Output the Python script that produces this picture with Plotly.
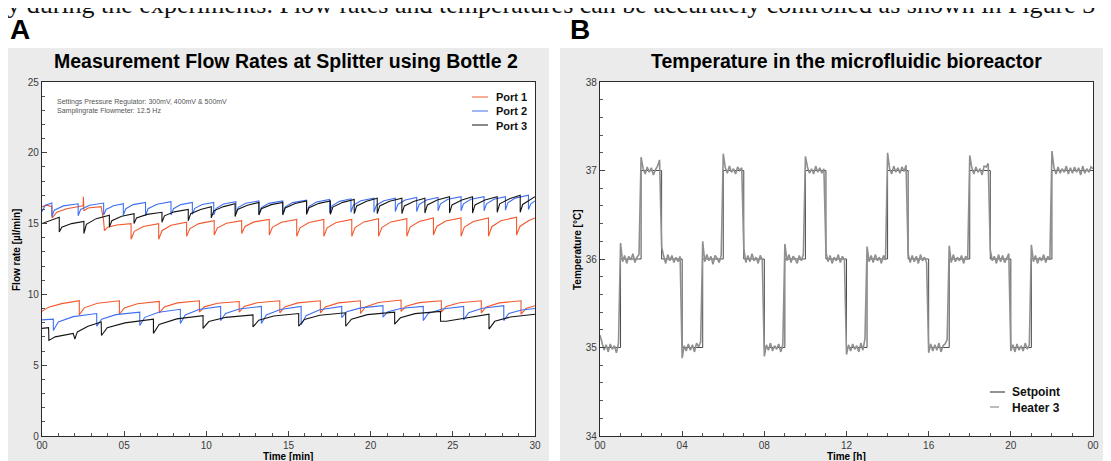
import plotly.graph_objects as go

# the page puts the figure 8px in from the top-left corner, so the figure is 8px smaller
# and every position below is given in reference-picture pixels, then shifted by OFF
OFF = 8
W, H = 1111 - OFF, 461 - OFF

# ---------------- panel A: flow rate [µl/min] vs time [min], (t, value)
port1_upper = [(0, 16.2), (0.3, 16.3), (0.6, 16.2), (0.62, 15.4), (0.9, 15.8), (1.5, 16.05), (2.5, 16.25),
               (2.52, 16.9), (2.55, 15.9), (2.8, 16.1), (3.6, 16.2), (3.7, 15.6), (3.75, 15.2), (3.8, 14.5),
               (4.0, 14.75), (4.55, 14.9), (5.42, 15.0), (5.42, 13.9), (5.62, 14.45), (6.17, 14.8), (7.1, 15.0),
               (7.1, 13.9), (7.3, 14.5), (7.85, 14.88), (8.8, 15.1), (8.8, 14.1), (9.0, 14.65), (9.55, 15.0),
               (10.48, 15.2), (10.48, 14.2), (10.68, 14.7), (11.23, 15.02), (12.15, 15.2), (12.15, 14.3),
               (12.35, 14.8), (12.9, 15.12), (13.83, 15.3), (13.83, 14.2), (14.03, 14.75), (14.58, 15.1),
               (15.5, 15.3), (15.5, 14.1), (15.7, 14.7), (16.25, 15.08), (17.15, 15.3), (17.15, 14.1),
               (17.35, 14.7), (17.9, 15.08), (18.85, 15.3), (18.85, 14.1), (19.05, 14.72), (19.6, 15.12),
               (20.48, 15.35), (20.48, 14.1), (20.68, 14.72), (21.23, 15.12), (22.2, 15.35), (22.2, 14.1),
               (22.4, 14.75), (22.95, 15.15), (23.82, 15.4), (23.82, 14.2), (24.02, 14.8), (24.57, 15.18),
               (25.5, 15.4), (25.5, 14.1), (25.7, 14.75), (26.25, 15.15), (27.17, 15.4), (27.17, 14.1),
               (27.37, 14.78), (27.92, 15.2), (28.88, 15.45), (28.88, 14.2), (29.08, 14.8), (29.6, 15.2),
               (30, 15.4)]
port1_lower = [(0, 8.8), (0.4, 9.1), (1.2, 9.35), (2.27, 9.55), (2.27, 8.55), (2.57, 9.05), (3.37, 9.37),
               (4.71, 9.55), (4.71, 8.6), (5.01, 9.05), (5.81, 9.34), (7.14, 9.5), (7.14, 8.7), (7.44, 9.12),
               (8.24, 9.4), (9.58, 9.55), (9.58, 8.75), (9.88, 9.12), (10.68, 9.37), (12.0, 9.5), (12.0, 8.75),
               (12.3, 9.15), (13.1, 9.41), (14.47, 9.55), (14.47, 8.7), (14.77, 9.12), (15.57, 9.4),
               (16.94, 9.55), (16.94, 8.7), (17.24, 9.12), (18.04, 9.4), (19.38, 9.55), (19.38, 8.65),
               (19.68, 9.12), (20.48, 9.43), (21.85, 9.6), (21.85, 8.8), (22.15, 9.17), (22.95, 9.42),
               (24.3, 9.55), (24.3, 8.75), (24.6, 9.15), (25.4, 9.41), (26.73, 9.55), (26.73, 8.7),
               (27.03, 9.12), (27.83, 9.4), (29.15, 9.55), (29.15, 8.6), (29.45, 9.0), (30, 9.2)]
port2_upper = [(0, 15.85), (0.2, 16.3), (0.6, 16.45), (0.6, 15.5), (0.75, 15.95), (1.3, 16.25), (2.2, 16.4),
               (2.2, 15.55), (2.35, 16.0), (2.9, 16.3), (3.75, 16.45), (3.75, 15.6), (3.9, 16.0), (4.35, 16.26),
               (4.95, 16.4), (4.95, 15.6), (5.1, 16.05), (5.55, 16.34), (6.3, 16.5), (6.3, 15.55), (6.45, 16.05),
               (7.0, 16.37), (7.85, 16.55), (7.85, 15.6), (8.0, 16.05), (8.45, 16.34), (9.15, 16.5),
               (9.15, 15.65), (9.3, 16.08), (9.75, 16.35), (10.45, 16.5), (10.45, 15.6), (10.6, 16.08),
               (11.05, 16.38), (11.8, 16.55), (11.8, 15.7), (11.95, 16.15), (12.4, 16.44), (13.2, 16.6),
               (13.2, 15.65), (13.35, 16.12), (13.8, 16.43), (14.65, 16.6), (14.65, 15.7), (14.8, 16.18),
               (15.25, 16.48), (16.1, 16.65), (16.1, 15.75), (16.25, 16.22), (16.7, 16.53), (17.5, 16.7),
               (17.5, 15.75), (17.65, 16.25), (18.1, 16.57), (18.8, 16.75), (18.8, 15.8), (18.95, 16.3),
               (19.4, 16.62), (20.2, 16.8), (20.2, 15.8), (20.35, 16.3), (20.8, 16.62), (21.5, 16.8),
               (21.5, 15.85), (21.65, 16.35), (22.1, 16.67), (22.8, 16.85), (22.8, 15.85), (22.95, 16.35),
               (23.4, 16.67), (24.1, 16.85), (24.1, 15.9), (24.25, 16.4), (24.7, 16.72), (25.5, 16.9),
               (25.5, 15.9), (25.65, 16.4), (26.1, 16.72), (26.9, 16.9), (26.9, 15.9), (27.05, 16.4),
               (27.5, 16.72), (28.2, 16.9), (28.2, 15.95), (28.35, 16.47), (28.8, 16.8), (29.6, 17.0),
               (29.6, 16.0), (29.75, 16.4), (30, 16.6)]
port2_lower = [(0, 8.2), (0.69, 8.25), (0.69, 7.45), (0.99, 8.05), (1.9, 8.43), (3.33, 8.65), (3.33, 7.75),
               (3.63, 8.25), (4.5, 8.57), (5.95, 8.75), (5.95, 7.8), (6.25, 8.38), (7.1, 8.74), (8.42, 8.95),
               (8.42, 7.95), (8.72, 8.55), (9.55, 8.93), (10.87, 9.15), (10.87, 8.15), (11.17, 8.65),
               (12.0, 8.97), (13.35, 9.15), (13.35, 7.95), (13.65, 8.55), (14.5, 8.93), (15.77, 9.15),
               (15.77, 7.85), (16.07, 8.5), (16.9, 8.92), (18.24, 9.15), (18.24, 8.35), (18.54, 8.78),
               (19.4, 9.05), (20.75, 9.2), (20.75, 8.4), (21.05, 8.78), (21.9, 9.02), (23.2, 9.15),
               (23.2, 8.15), (23.5, 8.65), (24.35, 8.97), (25.66, 9.15), (25.66, 8.2), (25.96, 8.7),
               (26.8, 9.02), (28.1, 9.2), (28.1, 8.15), (28.4, 8.65), (29.2, 8.9), (30, 9.0)]
port3_upper = [(0, 15.0), (0.5, 15.2), (1.05, 15.45), (1.05, 14.4), (1.2, 14.75), (1.8, 15.0), (2.55, 15.15),
               (2.55, 14.3), (2.7, 14.95), (3.3, 15.35), (4.1, 15.6), (4.1, 14.75), (4.25, 15.2), (4.85, 15.52),
               (5.6, 15.7), (5.6, 15.0), (5.75, 15.4), (6.4, 15.65), (7.3, 15.8), (7.3, 15.1), (7.45, 15.55),
               (8.05, 15.83), (8.9, 16.0), (8.9, 15.2), (9.05, 15.7), (9.65, 16.0), (10.3, 16.2), (10.3, 15.4),
               (10.45, 15.9), (11.05, 16.2), (11.75, 16.4), (11.75, 15.5), (11.9, 16.0), (12.5, 16.3),
               (13.2, 16.5), (13.2, 15.6), (13.35, 16.05), (13.95, 16.34), (14.65, 16.5), (14.65, 15.6),
               (14.8, 16.1), (15.4, 16.42), (16.1, 16.6), (16.1, 15.65), (16.25, 16.12), (16.85, 16.43),
               (17.55, 16.6), (17.55, 15.65), (17.7, 16.17), (18.3, 16.5), (19.0, 16.7), (19.0, 15.7),
               (19.15, 16.25), (19.75, 16.58), (20.4, 16.8), (20.4, 15.7), (20.55, 16.25), (21.15, 16.58),
               (21.9, 16.8), (21.9, 15.7), (22.05, 16.25), (22.65, 16.58), (23.3, 16.8), (23.3, 15.75),
               (23.45, 16.32), (24.05, 16.67), (24.8, 16.9), (24.8, 15.75), (24.95, 16.32), (25.55, 16.67),
               (26.2, 16.9), (26.2, 15.75), (26.35, 16.32), (26.95, 16.67), (27.7, 16.9), (27.7, 15.8),
               (27.85, 16.4), (28.45, 16.75), (29.1, 17.0), (29.1, 15.8), (29.25, 16.35), (30, 16.9)]
port3_lower = [(0, 7.6), (0.4, 7.65), (0.42, 6.75), (0.8, 7.0), (1.9, 7.25), (2.0, 6.85), (2.15, 7.35),
               (2.8, 7.75), (3.6, 8.05), (3.62, 7.1), (3.97, 7.65), (5.05, 7.99), (6.78, 8.25), (6.78, 7.25),
               (7.13, 7.88), (8.2, 8.27), (9.8, 8.5), (9.8, 7.6), (10.15, 8.08), (11.2, 8.38), (12.84, 8.55),
               (12.84, 7.7), (13.19, 8.18), (14.1, 8.48), (15.62, 8.65), (15.62, 7.75), (15.97, 8.23),
               (16.9, 8.53), (18.48, 8.7), (18.48, 7.75), (18.83, 8.25), (19.8, 8.57), (21.46, 8.75),
               (21.46, 7.9), (21.81, 8.35), (22.7, 8.64), (24.25, 8.8), (24.25, 8.1), (24.6, 8.1), (25.6, 8.3),
               (27.2, 8.6), (27.2, 7.55), (27.55, 8.1), (28.5, 8.4), (30, 8.6)]

port_names = ["Port 1", "Port 2", "Port 3"]
port_colors = ["#f2582c", "#3f6ff0", "#151515"]
flow_ticks = [0, 5, 10, 15, 20, 25]
min_ticks = [0, 5, 10, 15, 20, 25, 30]
min_ticktext = ["00", "05", "10", "15", "20", "25", "30"]

# ---------------- panel B: temperature [°C] vs time [h]
setpoint_hours = list(range(25))
setpoint_temp = [35, 36, 37, 36, 35, 36, 37, 36, 35, 36, 37, 36, 35, 36, 37, 36,
                 35, 36, 37, 36, 35, 36, 37, 37, 37]
heater3_temp = [
    35.14, 35.06, 34.97, 35.03, 34.95, 35.04, 34.98, 35.02, 34.94, 35.05,
    36.18, 35.97, 36.04, 35.95, 36.03, 35.99, 36.06, 35.96, 36.02, 36.05,
    37.15, 37.02, 36.96, 37.04, 36.98, 37.03, 36.95, 37.01, 37.05, 37.12,
    36.14, 36.03, 35.95, 36.05, 35.98, 36.04, 35.96, 36.02, 35.97, 36.03,
    34.88, 35.02, 34.96, 35.04, 34.97, 35.03, 34.95, 35.05, 35.01, 35.06,
    36.20, 35.97, 36.05, 35.98, 36.03, 35.94, 36.04, 36.01, 35.96, 36.04,
    37.19, 37.03, 36.97, 37.05, 36.98, 37.02, 36.96, 37.04, 37.00, 37.03,
    36.12, 35.96, 36.04, 35.97, 36.06, 35.98, 36.02, 35.95, 36.04, 35.99,
    34.90, 35.03, 34.97, 35.05, 34.96, 35.02, 34.98, 35.04, 34.95, 35.03,
    36.17, 35.98, 36.05, 35.96, 36.03, 36.00, 35.95, 36.04, 35.98, 36.05,
    37.16, 37.04, 36.97, 37.02, 36.96, 37.05, 36.98, 37.03, 36.97, 37.02,
    36.08, 35.97, 36.04, 35.95, 36.02, 35.98, 36.05, 35.96, 36.03, 35.99,
    34.92, 35.03, 34.96, 35.04, 34.98, 35.02, 34.95, 35.05, 34.97, 35.10,
    36.14, 35.97, 36.04, 35.96, 36.05, 35.98, 36.02, 35.95, 36.04, 35.99,
    37.20, 37.02, 36.96, 37.05, 36.98, 37.03, 36.97, 37.04, 36.99, 37.06,
    36.06, 35.96, 36.04, 35.97, 36.03, 35.95, 36.05, 35.98, 36.02, 35.96,
    34.94, 35.04, 34.96, 35.03, 34.97, 35.05, 34.95, 35.02, 35.04, 35.09,
    36.15, 35.96, 36.05, 35.97, 36.02, 35.98, 36.04, 35.95, 36.03, 36.00,
    37.17, 37.03, 36.96, 37.04, 36.98, 37.02, 36.95, 37.05, 37.04, 37.08,
    36.10, 35.98, 36.03, 35.95, 36.05, 35.97, 36.04, 35.96, 36.02, 36.06,
    34.96, 35.03, 34.95, 35.04, 34.97, 35.02, 34.96, 35.05, 34.98, 35.03,
    36.16, 35.97, 36.04, 35.95, 36.02, 35.98, 36.05, 35.96, 36.03, 35.99,
    37.22, 37.03, 36.96, 37.04, 36.97, 37.02, 36.98, 37.05, 36.96, 37.03,
    36.97, 37.04, 36.98, 37.03, 36.95, 37.05, 36.97, 37.02, 36.98, 37.04,
    37.02]
heater3_hours = [i / 10 for i in range(len(heater3_temp))]
temp_ticks = [34, 35, 36, 37, 38]
hour_ticks = [0, 4, 8, 12, 16, 20, 24]
hour_ticktext = ["00", "04", "08", "12", "16", "20", "00"]

SANS = "Liberation Sans, Arial, sans-serif"


def px(x):
    return (x - OFF) / W


def py(y):
    return 1 - (y - OFF) / H


fig = go.Figure()

port_series = [(port1_upper, port1_lower), (port2_upper, port2_lower), (port3_upper, port3_lower)]
for name, color, pair in zip(port_names, port_colors, port_series):
    for pts in pair:
        fig.add_trace(go.Scatter(x=[p[0] for p in pts], y=[p[1] for p in pts], mode="lines",
                                 line=dict(color=color, width=1.1), name=name, showlegend=False,
                                 xaxis="x", yaxis="y"))

fig.add_trace(go.Scatter(x=setpoint_hours, y=setpoint_temp, mode="lines", line_shape="hv",
                         line=dict(color="#4a4a4a", width=1), name="Setpoint", showlegend=False,
                         xaxis="x2", yaxis="y2"))
fig.add_trace(go.Scatter(x=heater3_hours, y=heater3_temp, mode="lines",
                         line=dict(color="#8f8f8f", width=1.6), name="Heater 3", showlegend=False,
                         xaxis="x2", yaxis="y2"))

axis_common = dict(showgrid=False, zeroline=False, showline=True, linecolor="#2a2a2a", linewidth=1.3,
                   mirror=True, ticks="inside", ticklen=5, tickcolor="#444", tickwidth=1,
                   tickfont=dict(family=SANS, size=10, color="#3a3a3a"))

A_X = (42, 535)
B_X = (600, 1093)
PLOT_Y = (82, 436)

fig.update_layout(
    width=W, height=H, margin=dict(l=0, r=0, t=0, b=0, autoexpand=False),
    paper_bgcolor="white", plot_bgcolor="white", showlegend=False,
    xaxis=dict(axis_common, domain=[px(A_X[0]), px(A_X[1])], range=[0, 30], anchor="y",
               tickvals=min_ticks, ticktext=min_ticktext,
               minor=dict(dtick=1, tick0=0, ticks="inside", ticklen=3, tickcolor="#555")),
    yaxis=dict(axis_common, domain=[py(PLOT_Y[1]), py(PLOT_Y[0])], range=[0, 25], anchor="x",
               tickvals=flow_ticks, minor=dict(dtick=1, tick0=0, ticks="inside", ticklen=3, tickcolor="#555")),
    xaxis2=dict(axis_common, domain=[px(B_X[0]), px(B_X[1])], range=[0, 24], anchor="y2",
                tickvals=hour_ticks, ticktext=hour_ticktext,
                minor=dict(dtick=1, tick0=0, ticks="inside", ticklen=3, tickcolor="#555")),
    yaxis2=dict(axis_common, domain=[py(PLOT_Y[1]), py(PLOT_Y[0])], range=[34, 38], anchor="x2",
                tickvals=temp_ticks, minor=dict(dtick=0.2, tick0=34, ticks="inside", ticklen=3, tickcolor="#555")),
)

# grey panel frames, with white plot areas laid back over them
shapes = []
for x0, x1 in [(8, 549), (560, 1111)]:
    shapes.append(dict(type="rect", xref="paper", yref="paper", x0=px(x0), x1=px(x1), y0=0, y1=py(48),
                       fillcolor="#ebebeb", line=dict(width=0), layer="below"))
for x0, x1 in [A_X, B_X]:
    shapes.append(dict(type="rect", xref="paper", yref="paper", x0=px(x0), x1=px(x1),
                       y0=py(PLOT_Y[1]), y1=py(PLOT_Y[0]), fillcolor="white", line=dict(width=0), layer="below"))

# hand-placed legends (entries are tighter than plotly's own legend allows)
legend_a_y = [97, 111, 125]
for color, yy in zip(port_colors, legend_a_y):
    shapes.append(dict(type="line", xref="paper", yref="paper", x0=px(472), x1=px(488), y0=py(yy), y1=py(yy),
                       line=dict(color=color, width=1)))
legend_b_names = ["Setpoint", "Heater 3"]
legend_b = [("#4a4a4a", "solid", 392), ("#8f8f8f", "dash", 407)]
for color, dash, yy in legend_b:
    shapes.append(dict(type="line", xref="paper", yref="paper", x0=px(990), x1=px(1005), y0=py(yy), y1=py(yy),
                       line=dict(color=color, width=1.2, dash=dash)))
fig.update_layout(shapes=shapes)

annotations = [
    # running text of the page above the figure, only its lower half shows
    dict(text="ly during the experiments. Flow rates and temperatures can be accurately controlled as shown in Figure 3",
         x=px(-2), y=py(5), xanchor="left", yanchor="middle",
         font=dict(family="Liberation Serif, Times New Roman, serif", size=26, color="#111")),
    dict(text="<b>A</b>", x=px(8), y=py(29), xanchor="left", yanchor="middle",
         font=dict(family=SANS, size=28, color="#000")),
    dict(text="<b>B</b>", x=px(568), y=py(29), xanchor="left", yanchor="middle",
         font=dict(family=SANS, size=28, color="#000")),
    dict(text="<b>Measurement Flow Rates at Splitter using Bottle 2</b>", x=px(286), y=py(61),
         xanchor="center", yanchor="middle", font=dict(family=SANS, size=19.5, color="#000")),
    dict(text="<b>Temperature in the microfluidic bioreactor</b>", x=px(846), y=py(61),
         xanchor="center", yanchor="middle", font=dict(family=SANS, size=19.5, color="#000")),
    dict(text="Settings Pressure Regulator: 300mV, 400mV & 500mV<br>Samplingrate Flowmeter: 12.5 Hz",
         x=px(55), y=py(106), xanchor="left", yanchor="middle", align="left",
         font=dict(family=SANS, size=7, color="#555")),
    dict(text="<b>Flow rate [µl/min]</b>", x=px(17), y=py(250), textangle=-90, xanchor="center",
         yanchor="middle", font=dict(family=SANS, size=10, color="#000")),
    dict(text="<b>Time [min]</b>", x=px(288), y=py(456), xanchor="center", yanchor="middle",
         font=dict(family=SANS, size=10, color="#000")),
    dict(text="<b>Temperature [°C]</b>", x=px(578), y=py(250), textangle=-90, xanchor="center",
         yanchor="middle", font=dict(family=SANS, size=10, color="#000")),
    dict(text="<b>Time [h]</b>", x=px(846), y=py(456), xanchor="center", yanchor="middle",
         font=dict(family=SANS, size=10, color="#000")),
    dict(text="<br>".join("<b>%s</b>" % n for n in port_names), x=px(494), y=py(111), xanchor="left",
         yanchor="middle", align="left", font=dict(family=SANS, size=11, color="#111")),
    dict(text="<br>".join("<b>%s</b>" % n for n in legend_b_names), x=px(1010), y=py(399.5), xanchor="left",
         yanchor="middle", align="left", font=dict(family=SANS, size=12, color="#111")),
]
for a in annotations:
    a.update(xref="paper", yref="paper", showarrow=False)
fig.update_layout(annotations=annotations)

fig.write_html("out.html")
